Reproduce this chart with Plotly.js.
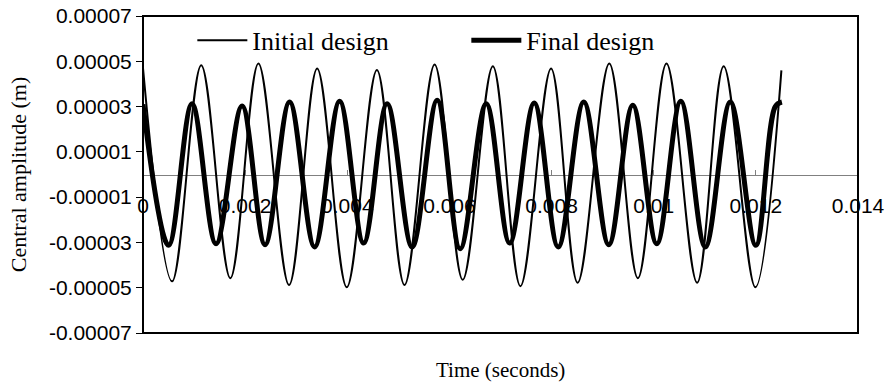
<!DOCTYPE html>
<html>
<head>
<meta charset="utf-8">
<script src="https://cdn.plot.ly/plotly-3.0.1.min.js"></script>
<style>html,body{margin:0;padding:0;background:#fff;}#chart{width:885px;height:383px;}</style>
</head>
<body>
<div id="chart"></div>
<script>
// Time values in seconds (read at the extrema of each curve)
var initialTime = [0, 0.00057, 0.00114, 0.00171, 0.00226, 0.00286, 0.00341, 0.00399, 0.00458, 0.00512, 0.00571, 0.00626, 0.00685, 0.00739, 0.00799, 0.00851, 0.00913, 0.00969, 0.01025, 0.01085, 0.01137, 0.01199, 0.0125];
var initialAmp = [0.000047, -0.0000472, 0.0000483, -0.0000458, 0.000049, -0.0000488, 0.0000468, -0.0000498, 0.0000462, -0.0000488, 0.0000486, -0.0000465, 0.0000478, -0.0000493, 0.0000468, -0.0000478, 0.000049, -0.0000458, 0.000049, -0.0000478, 0.0000478, -0.0000498, 0.000046];

var finalTime = [0, 0.0005, 0.00096, 0.00143, 0.00194, 0.00239, 0.00287, 0.00336, 0.00385, 0.00432, 0.00478, 0.00527, 0.00576, 0.00621, 0.00672, 0.00718, 0.00766, 0.00813, 0.00863, 0.00912, 0.00959, 0.01006, 0.01053, 0.01101, 0.0115, 0.012, 0.01238, 0.01251];
var finalAmp = [0.000031, -0.0000313, 0.0000313, -0.0000306, 0.0000303, -0.000031, 0.000032, -0.000032, 0.0000323, -0.0000303, 0.0000313, -0.000032, 0.0000328, -0.0000328, 0.0000313, -0.0000303, 0.0000316, -0.000032, 0.000032, -0.000031, 0.0000306, -0.0000306, 0.0000323, -0.000032, 0.000032, -0.0000313, 0.00003, 0.000032];

var seriesNames = ["Initial design", "Final design"];
var xTickVals = [0, 0.002, 0.004, 0.006, 0.008, 0.01, 0.012, 0.014];
var xTickText = ["0", "0.002", "0.004", "0.006", "0.008", "0.01", "0.012", "0.014"];
var yTickVals = [0.00007, 0.00005, 0.00003, 0.00001, -0.00001, -0.00003, -0.00005, -0.00007];
var yTickText = ["0.00007", "0.00005", "0.00003", "0.00001", "-0.00001", "-0.00003", "-0.00005", "-0.00007"];

var traces = [
  {x: initialTime, y: initialAmp, name: seriesNames[0], mode: "lines",
   line: {color: "#000", width: 2, shape: "spline", smoothing: 1}},
  {x: finalTime, y: finalAmp, name: seriesNames[1], mode: "lines",
   line: {color: "#000", width: 5, shape: "spline", smoothing: 1}}
];

var layout = {
  width: 885, height: 383,
  margin: {l: 142.7, r: 27.3, t: 15.7, b: 49.7, pad: 0},
  paper_bgcolor: "#fff", plot_bgcolor: "#fff",
  showlegend: true,
  legend: {orientation: "h", x: 0.069, xanchor: "left", y: 0.923, yanchor: "middle",
    font: {family: "Liberation Serif", size: 26, color: "#000"},
    bgcolor: "rgba(0,0,0,0)", borderwidth: 0, itemwidth: 50,
    entrywidth: 209, entrywidthmode: "pixels", tracegroupgap: 0},
  xaxis: {range: [0, 0.014], tickmode: "array", tickvals: xTickVals, ticktext: xTickText,
    anchor: "free", position: 0.5, showline: true, linecolor: "#808080", linewidth: 1,
    ticks: "inside", ticklen: 5, tickcolor: "#808080", tickwidth: 1,
    showgrid: false, zeroline: false, layer: "below traces",
    ticklabelstandoff: 12,
    tickfont: {family: "Liberation Sans", size: 21, color: "#000"}},
  yaxis: {range: [-0.00007, 0.00007], tickmode: "array", tickvals: yTickVals, ticktext: yTickText,
    showline: false, ticks: "outside", ticklen: 6, tickcolor: "#000", tickwidth: 1,
    showgrid: false, zeroline: false,
    tickfont: {family: "Liberation Sans", size: 21, color: "#000"},
    title: {text: "Central amplitude (m)", standoff: 16,
      font: {family: "Liberation Serif", size: 22, color: "#000"}}},
  shapes: [{type: "rect", xref: "paper", yref: "paper", x0: 0, x1: 1, y0: 0, y1: 1,
    line: {color: "#000", width: 2}, layer: "above"}],
  annotations: [{text: "Time (seconds)", xref: "paper", yref: "paper", x: 0.5, y: -0.1156,
    xanchor: "center", yanchor: "middle", showarrow: false,
    font: {family: "Liberation Serif", size: 21, color: "#000"}}]
};

Plotly.newPlot("chart", traces, layout, {displayModeBar: false, staticPlot: true});
</script>
</body>
</html>
